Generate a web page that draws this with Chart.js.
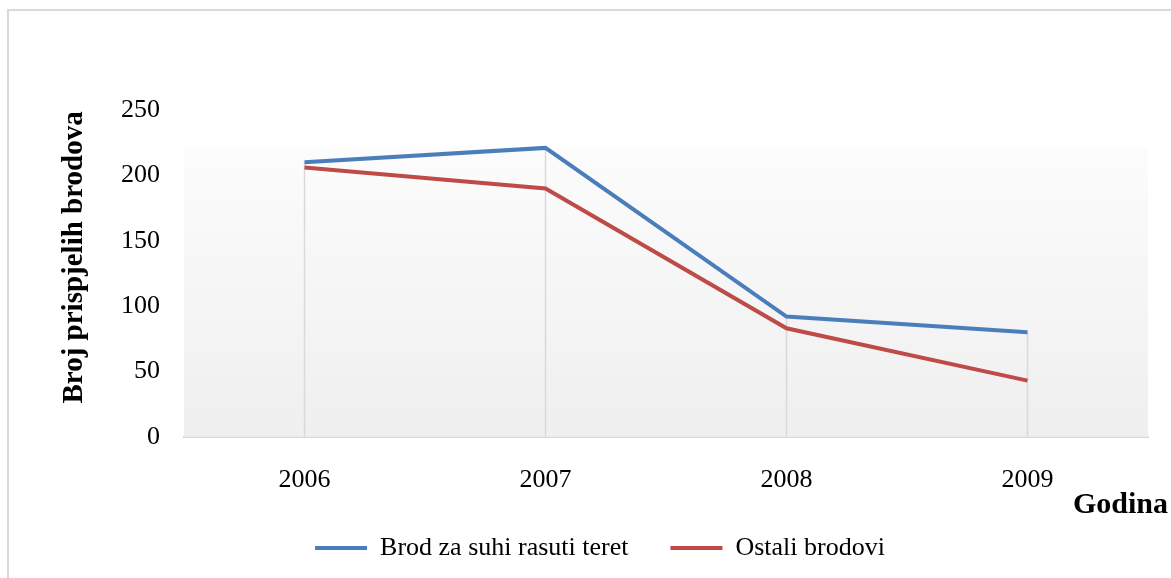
<!DOCTYPE html>
<html>
<head>
<meta charset="utf-8">
<script src="https://cdn.jsdelivr.net/npm/chart.js@4/dist/chart.umd.min.js"></script>
<style>
  html, body { margin: 0; padding: 0; background: #fff; overflow: hidden; }
  #wrap { position: relative; width: 1171px; height: 578px; }
  #okvir {
    position: absolute; left: 7px; top: 9px; width: 1300px; height: 700px;
    border: 2px solid #d9d9d9; pointer-events: none;
  }
  canvas { position: absolute; left: 0; top: 0; }
</style>
</head>
<body>
<div id="wrap">
  <canvas id="grafikon" width="1171" height="578"></canvas>
  <div id="okvir"></div>
</div>
<script>
// Godine (kategorije)
const godine = ['2006', '2007', '2008', '2009'];

// Broj prispjelih brodova po vrsti
const suhiRasuti = [210, 221, 92, 80];
const ostali = [206, 190, 83, 43];

// Oznake y osi
const yMin = 0;
const yMax = 250;
const yKorak = 50;

const FONT = "'Liberation Serif', 'Times New Roman', serif";
const TICK_SIZE = 26;

// Pozadina podrucja grafa - blagi gradijent od bijele prema sivoj
const pozadina = {
  id: 'pozadina',
  beforeDatasetsDraw(chart) {
    const { ctx, chartArea: a } = chart;
    const g = ctx.createLinearGradient(0, a.top, 0, a.bottom);
    g.addColorStop(0, '#ffffff');
    g.addColorStop(0.115, '#ffffff');
    g.addColorStop(0.12, '#fcfcfc');
    g.addColorStop(1, '#efefef');
    ctx.save();
    ctx.fillStyle = g;
    ctx.fillRect(a.left, a.top, a.right - a.left, a.bottom - a.top);
    ctx.restore();
  }
};

// Okomite linije od najvise tocke do osi (drop lines)
const spusteneLinije = {
  id: 'spusteneLinije',
  beforeDatasetsDraw(chart) {
    const { ctx, chartArea: a, scales: { x, y } } = chart;
    ctx.save();
    ctx.strokeStyle = '#d9d9d9';
    ctx.lineWidth = 1.5;
    godine.forEach((g, i) => {
      const vrh = Math.max(...chart.data.datasets.map(d => d.data[i]));
      const px = x.getPixelForValue(i);
      ctx.beginPath();
      ctx.moveTo(px, y.getPixelForValue(vrh));
      ctx.lineTo(px, a.bottom);
      ctx.stroke();
    });
    ctx.restore();
  }
};

// Naslovi osi: "Godina" desno ispod osi, okomiti naslov lijevo
const nasloviOsi = {
  id: 'nasloviOsi',
  afterDraw(chart) {
    const { ctx, chartArea: a, scales: { y } } = chart;
    ctx.save();
    ctx.fillStyle = '#000';
    ctx.textBaseline = 'middle';

    ctx.font = 'bold 30px ' + FONT;
    ctx.textAlign = 'right';
    ctx.fillText('Godina', a.right + 20, a.bottom + 68);

    ctx.font = 'bold 29px ' + FONT;
    ctx.textAlign = 'center';
    ctx.translate(y.left + 23, (a.top + a.bottom) / 2 - 16);
    ctx.rotate(-Math.PI / 2);
    ctx.fillText('Broj prispjelih brodova', 0, 0);
    ctx.restore();
  }
};

new Chart(document.getElementById('grafikon'), {
  type: 'line',
  data: {
    labels: godine,
    datasets: [
      {
        label: 'Brod za suhi rasuti teret',
        data: suhiRasuti,
        borderColor: '#4a7ebb',
        backgroundColor: '#4a7ebb',
        borderWidth: 4,
        pointRadius: 0,
        tension: 0
      },
      {
        label: 'Ostali brodovi',
        data: ostali,
        borderColor: '#be4b48',
        backgroundColor: '#be4b48',
        borderWidth: 4,
        pointRadius: 0,
        tension: 0
      }
    ]
  },
  options: {
    responsive: false,
    animation: false,
    layout: { padding: { left: 52, right: 23, top: 110, bottom: 7 } },
    plugins: {
      tooltip: { enabled: false },
      legend: {
        position: 'bottom',
        labels: {
          usePointStyle: true,
          pointStyle: 'line',
          pointStyleWidth: 52,
          boxHeight: 4,
          padding: 42,
          color: '#000',
          font: { family: FONT, size: 26 }
        }
      }
    },
    scales: {
      x: {
        offset: true,
        grid: { display: false, drawTicks: false },
        border: { display: true, color: '#d9d9d9', width: 2 },
        ticks: { color: '#000', padding: 28, font: { family: FONT, size: TICK_SIZE } },
        afterFit(scale) { scale.height = 25 + TICK_SIZE * 1.2; }
      },
      y: {
        min: yMin,
        max: yMax,
        grid: { display: false, drawTicks: false },
        border: { display: false },
        ticks: { stepSize: yKorak, color: '#000', padding: 24, font: { family: FONT, size: TICK_SIZE } },
        // mjesto za okomiti naslov osi (crta ga plugin nasloviOsi)
        afterFit(scale) { scale.width = 132; }
      }
    }
  },
  plugins: [pozadina, spusteneLinije, nasloviOsi]
});
</script>
</body>
</html>
